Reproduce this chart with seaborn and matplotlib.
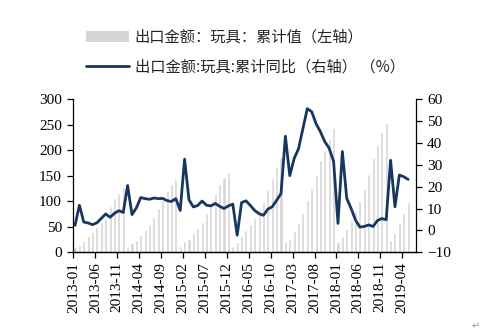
import numpy as np
import pandas as pd
import matplotlib
matplotlib.use("Agg")
import matplotlib.pyplot as plt
from matplotlib.patches import Patch
from matplotlib.lines import Line2D
import seaborn as sns

# ---- data ----
months = [f"{y}-{m:02d}" for y in range(2013, 2020) for m in range(1, 13)][:77]

bar_2013 = [10, 15, 23, 31, 40, 50, 60, 68, 91, 106, 116, 127]
bar_2014 = [12, 18, 24, 34, 44, 55, 70, 86, 102, 120, 133, 143]
bar_2015 = [13, 22, 27, 37, 47, 60, 76, 92, 117, 133, 147, 158]
bar_2016 = [12, 20, 31, 43, 55, 67, 82, 98, 122, 145, 166, 186]
bar_2017 = [21, 27, 42, 57, 76, 102, 125, 152, 181, 200, 222, 243]
bar_2018 = [21, 32, 45, 63, 80, 101, 124, 153, 184, 210, 235, 254]
bar_2019 = [24, 37, 57, 76, 98]
cum_value = bar_2013 + bar_2014 + bar_2015 + bar_2016 + bar_2017 + bar_2018 + bar_2019

yoy_2013 = [2.3, 11.5, 3.8, 3.4, 2.6, 3.5, 5.5, 7.5, 6.0, 7.8, 9.0, 8.2]
yoy_2014 = [20.5, 7.2, 10.3, 15.0, 14.5, 14.2, 14.8, 14.5, 14.6, 13.6, 13.2, 14.5]
yoy_2015 = [9.1, 32.5, 14.0, 10.7, 11.4, 13.4, 11.5, 11.2, 12.3, 11.0, 10.0, 11.2]
yoy_2016 = [12.0, -2.2, 12.7, 13.5, 11.4, 9.1, 7.6, 6.9, 9.7, 10.8, 13.7, 16.8]
yoy_2017 = [43.0, 25.0, 32.8, 37.3, 46.5, 55.6, 54.2, 48.7, 45.0, 40.5, 37.5, 31.5]
yoy_2018 = [3.2, 36.0, 14.6, 10.0, 4.7, 1.5, 1.8, 2.5, 1.8, 4.5, 5.4, 4.9]
yoy_2019 = [32.0, 10.8, 25.3, 24.5, 23.3]
cum_yoy = yoy_2013 + yoy_2014 + yoy_2015 + yoy_2016 + yoy_2017 + yoy_2018 + yoy_2019

tick_labels = months[::5]

label_bar = "出口金额：玩具：累计值（左轴）"
label_line = "出口金额:玩具:累计同比（右轴） （%）"

df = pd.DataFrame({"month": months, "value": cum_value, "yoy": cum_yoy,
                   "idx": np.arange(len(months))})

# ---- style ----
sns.set_theme(style="white")
plt.rcParams["font.family"] = ["Liberation Serif", "Noto Sans CJK SC", "DejaVu Sans"]

BAR_C = "#d6d6d6"
LINE_C = "#17375e"

fig = plt.figure(figsize=(4.93, 3.33), dpi=100)
ax = fig.add_axes([73 / 493, 1 - 252.3 / 333, (416 - 73) / 493, (252.3 - 99) / 333])

sns.barplot(data=df, x="month", y="value", color=BAR_C, width=0.7,
            saturation=1, ax=ax, zorder=1)
ax2 = ax.twinx()
sns.lineplot(data=df, x="idx", y="yoy", color=LINE_C, linewidth=2.0, ax=ax2)

ax.set_xlim(-0.46, 77.8)
ax.set_ylim(0, 300)
ax2.set_ylim(-10, 60)
ax.set_yticks(range(0, 301, 50))
ax2.set_yticks(range(-10, 61, 10))
ax.set_xticks(np.arange(0, 77, 5) - 0.35)
ax.set_xticklabels(tick_labels, rotation=90)
ax.set_xlabel("")
ax.set_ylabel("")
ax2.set_xlabel("")
ax2.set_ylabel("")

for a in (ax, ax2):
    a.spines["top"].set_visible(False)
    for s in ("left", "right", "bottom"):
        a.spines[s].set_color("black")
        a.spines[s].set_linewidth(0.9)
    a.tick_params(axis="y", which="major", length=4, width=0.9,
                  color="black", labelsize=11, labelcolor="black", direction="out")
ax.spines["right"].set_visible(False)
ax2.spines["left"].set_visible(False)
ax.tick_params(axis="x", bottom=True, length=4, width=0.9, color="black",
               labelsize=11, labelcolor="black", direction="out", pad=3)
ax.tick_params(axis="y", left=True, pad=4)
ax2.tick_params(axis="y", right=True, pad=4)

handles = [Patch(facecolor=BAR_C, edgecolor="none"),
           Line2D([0], [0], color=LINE_C, linewidth=2.0)]
fig.legend(handles, [label_bar, label_line], loc="upper left",
           bbox_to_anchor=(86 / 493, 1 - 29 / 333), frameon=False,
           prop={"family": ["Noto Sans CJK SC", "DejaVu Sans"], "size": 11},
           handlelength=2.8, handletextpad=0.4, labelspacing=0.8,
           borderpad=0, borderaxespad=0)

fig.text(476 / 493, 1 - 326 / 333, "↵", color="#999999", fontsize=7,
         family="DejaVu Sans", ha="center", va="center")

fig.savefig("out.png", dpi=100)
